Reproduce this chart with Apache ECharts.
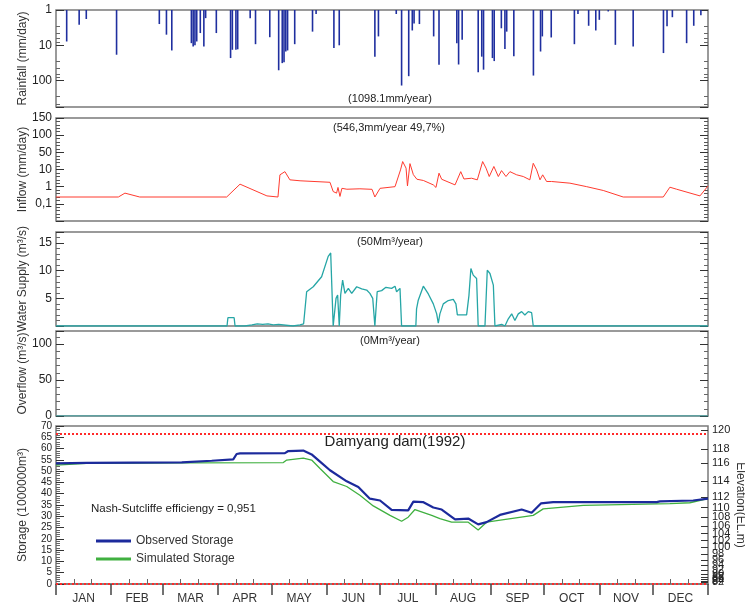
<!DOCTYPE html>
<html><head><meta charset="utf-8">
<script src="https://cdn.jsdelivr.net/npm/echarts@6.0.0/dist/echarts.min.js"></script>
<style>html,body{margin:0;padding:0;background:#fff}#c{width:745px;height:610px}</style>
</head><body><div id="c"></div><script>
// ---------- data ----------
const monthNames = ['JAN','FEB','MAR','APR','MAY','JUN','JUL','AUG','SEP','OCT','NOV','DEC'];
const monthStarts = [1,32,61,92,122,153,183,214,245,275,306,336,367];

const rainDay = [7,14,18,35,59,63,66,77,78,79,80,82,84,85,91,99,100,102,103,110,113,121,126,128,129,130,131,135,145,147,157,160,180,182,192,195,199,201,202,205,213,216,226,227,229,238,240,241,246,247,251,253,254,258,269,273,274,279,292,294,300,304,306,311,315,325,342,344,347,355,359,363];
const rainMm = [7.8,2.6,1.8,18.5,2.5,5,14,8.7,10.8,10,7.8,4.5,10.8,1.7,4.5,23,13.4,13.4,13,1.7,9.3,5.9,51,32,30,15,14,9.3,4.1,1.3,12,10,21,5.6,1.3,138,75,3.8,2.4,2.5,5.6,35.5,8.7,35,7,58,21,49,23,28,3.3,12.8,4.1,20.6,72,15,5.6,6,9.3,1.3,2.8,3.8,1.9,1.1,9.7,10.8,16.6,2.9,1.6,8.7,2.8,1.4];

const inflowDay = [1,36,39.7,48,96.8,104.3,119.4,125.6,126.7,129.5,132.3,138,154.8,156.6,158.5,159.3,160.4,161.5,164.3,171.6,178.4,180,182.9,191.3,194.4,195.6,197.5,198.3,199.7,201.6,203.6,207.2,212.8,214.3,216,217.5,225,228.2,230,234.3,237.5,240.5,242.4,244.2,246.8,249.3,251.1,253.6,255.8,259.6,263.3,267,268.9,270.8,272.7,274.2,276.4,279.2,289.5,298.9,308.2,319.4,341.9,345.6,349.4,362.5,367];
const inflowVal = [0.25,0.25,0.42,0.25,0.25,1.4,0.29,0.25,4.9,7.5,2.5,2.2,1.8,0.52,0.42,0.9,0.27,0.8,0.71,0.75,0.7,0.25,0.8,1.0,9.5,29,12,1.1,22,5,2.7,2.3,1.27,0.9,6.1,2.7,1.27,7.5,2.8,3.1,2.5,29,12,3.9,15,3.9,8.6,3.9,7.5,4.9,3.9,2.5,23,9.5,2.5,4.9,2.0,2.0,1.6,1.0,0.6,0.25,0.25,0.93,0.71,0.29,1.1];
const inflowTickLabels = ['', '0,1', '1', '10', '50', '100', '150'];

const supplyDay = [1,97,97.5,101,101.5,107,108,111,114,117,120,123,126,127,134,135,138,140,141,141.7,145.4,150.1,153.8,155.2,156.1,156.6,158.2,159.1,160,160.8,161.9,163.2,165.1,167,169.8,172.6,175.4,177.2,178.8,180,181.3,183.8,186.2,189.4,191.3,192.2,194.1,195,203,203.4,204.3,207.2,210,212.8,214.7,215.6,216.5,218.4,221.2,224,225.5,226.3,231.5,232.8,233.9,235.2,237.1,238,241.8,243.1,244.6,246.5,247.4,251.2,253,254.9,256.8,258.6,260.5,262.4,264.2,266.1,268,268.9,367];
const supplyVal = [0,0,1.5,1.5,0,0,0.3,0.2,0.4,0.3,0.4,0.2,0.3,0,0,0.3,0.2,0.4,0.3,6.2,7.1,8.9,12.6,13.2,13,0,5,5.6,0,5.6,8.3,5.9,6.8,5.9,7.1,6.7,6.5,5.9,5,0,6.2,6.4,7,6.8,7.2,6.2,6.8,0,0,3.1,4.6,7.2,5.8,4,2.2,0.5,2.2,4,4.6,4.8,4,2,2,5.5,10.4,9.2,8.6,0,0,10.1,9.5,7.4,0,0.3,0,1.3,2.2,1,2.2,2.6,2,2.6,2.4,0,0];

const overflowDay = [1,367];
const overflowVal = [0,0];

const obsDay = [1,18.2,71.6,88.4,100.5,102.4,104.3,129.5,131.4,139.8,144.5,149.2,154.8,164.2,170.7,177.2,182.9,189.4,198.7,201.6,207,212.8,217.5,225,232.4,238,242.7,250.2,262.4,268,273.2,280.1,338.2,340,358.7,367];
const obsVal = [53.4,53.7,53.9,54.6,55.2,57.6,57.9,58,58.9,59.1,57.4,54.2,50.4,45.5,43,37.8,37,32.8,32.6,36.5,36.3,33.9,33,28.6,29,26.4,27.4,30.6,33,31.6,35.7,36.3,36.3,36.6,37,37.8];
const simDay = [1,18.2,71.6,128.6,130.5,139.8,144.5,149.2,156.6,164.2,171.6,179.1,188.5,195,198.7,202.5,211.9,216.5,223.1,232.4,238,242.7,268.9,274.5,297,345.6,356.8,367];
const simVal = [52.7,53.4,53.7,53.8,54.9,55.8,54.9,51.2,45.4,43.2,39.3,34.6,30.4,27.8,29.6,33,30.4,29,27.4,27.4,23.9,27.4,30.4,33.3,34.8,35.6,36,37.8];
const storageLimits = [66.5, 0.3];

const elevLabels = [120,118,116,114,112,110,108,106,104,102,100,98,96,94,92,90,88,86,84,82,80];
const elevStorage = [68.3,59.8,53.6,45.5,38.4,33.9,29.5,25.5,22.3,19.2,16.5,13.4,10.7,8.5,6.2,4.5,3.1,2.2,1.3,0.7,0.3];

// ---------- chart ----------
const FONT = "'Liberation Sans Narrow','Liberation Sans',Arial,sans-serif";
const zip = (a, b) => a.map((v, i) => [v, b[i]]);
const monthMids = monthNames.map((m, i) => (monthStarts[i] + monthStarts[i + 1]) / 2);
const dekadTicks = [];
monthStarts.slice(0, 12).forEach(s => { dekadTicks.push(s + 10, s + 20); });

const gridBox = [[10, 97], [118, 103], [232, 94], [331, 85], [426, 158]];
const grids = gridBox.map(g => ({left: 56, right: 37, top: g[0], height: g[1], show: true,
  outerBoundsMode: 'none', containLabel: false,
  borderColor: '#7a7a7a', borderWidth: 1.5, backgroundColor: '#fff'}));

const xHidden = i => ({gridIndex: i, type: 'value', min: 1, max: 367, show: false});
const xAxes = [xHidden(0), xHidden(1), xHidden(2), xHidden(3),
  {gridIndex: 4, type: 'value', min: 1, max: 367, splitLine: {show: false},
   axisLine: {show: true, lineStyle: {color: '#7a7a7a', width: 1.5}},
   axisTick: {show: true, customValues: monthStarts, length: 11, lineStyle: {color: '#444', width: 1.5}},
   axisLabel: {customValues: monthMids, margin: 9, fontSize: 12, color: '#333', fontFamily: FONT,
     formatter: v => monthNames[monthMids.indexOf(v)] || ''}},
  {gridIndex: 4, type: 'value', min: 1, max: 367, splitLine: {show: false},
   axisLine: {show: false}, axisLabel: {show: false},
   axisTick: {show: true, customValues: dekadTicks, length: 5, lineStyle: {color: '#666'}}}
];

const nameStyle = {fontSize: 12, color: '#333', fontFamily: FONT};
function yax(o) {
  return Object.assign({
    position: 'left',
    splitLine: {show: false}, axisLine: {show: false},
    axisTick: {show: true, inside: true, length: 8, lineStyle: {color: '#333'}},
    minorTick: {show: true, length: 4, lineStyle: {color: '#666'}},
    axisLabel: {fontSize: 12, color: '#222', fontFamily: FONT, margin: 4},
    nameLocation: 'middle', nameRotate: 90, nameGap: 27, nameMoveOverlap: false, nameTextStyle: nameStyle
  }, o);
}
function mirror(base) {
  return Object.assign({}, base, {position: 'right', name: '', axisLabel: {show: false}});
}

const yRain = yax({gridIndex: 0, type: 'log', logBase: 10, inverse: true, min: 1, max: 560,
  name: 'Rainfall (mm/day)', axisLabel: {fontSize: 12, color: '#222', fontFamily: FONT, margin: 4, showMaxLabel: false}});
const yInflowData = {gridIndex: 1, type: 'log', logBase: 10, min: 0.01, max: 10000, show: false, position: 'left'};
const yInflowLab = yax({gridIndex: 1, type: 'value', min: -1, max: 5, interval: 1, name: 'Inflow (mm/day)',
  minorTick: {show: true, splitNumber: 5, length: 4, lineStyle: {color: '#555'}},
  axisLabel: {fontSize: 12, color: '#222', fontFamily: FONT, margin: 4, formatter: v => inflowTickLabels[v + 1]}});
const ySupply = yax({gridIndex: 2, type: 'value', min: 0, max: 17, interval: 5, name: 'Water Supply (m³/s)',
  axisLabel: {fontSize: 12, color: '#222', fontFamily: FONT, margin: 4, showMaxLabel: false,
    formatter: v => v === 0 ? '' : v}});
const yOver = yax({gridIndex: 3, type: 'value', min: 0, max: 118, interval: 50, name: 'Overflow (m³/s)',
  axisLabel: {fontSize: 12, color: '#222', fontFamily: FONT, margin: 4, showMaxLabel: false}});
const yStore = yax({gridIndex: 4, type: 'value', min: 0, max: 70, interval: 5, name: 'Storage (1000000m³)',
  axisLabel: {fontSize: 10, color: '#222', fontFamily: FONT, margin: 4}});
const yElev = {gridIndex: 4, type: 'value', position: 'right', min: 0, max: 70,
  splitLine: {show: false}, axisLine: {show: false},
  axisTick: {show: true, inside: true, customValues: elevStorage, length: 7, lineStyle: {color: '#333'}},
  axisLabel: {customValues: elevStorage, fontSize: 11, color: '#222', fontFamily: FONT, margin: 4,
    formatter: v => { const i = elevStorage.indexOf(v); return i >= 0 ? String(elevLabels[i]) : ''; }},
  name: 'Elevation(EL.m)', nameLocation: 'middle', nameRotate: -90, nameGap: 26, nameMoveOverlap: false,
  nameTextStyle: nameStyle};

const yAxes = [yRain, mirror(yRain), yInflowData, yInflowLab, mirror(yInflowLab),
  ySupply, mirror(ySupply), yOver, mirror(yOver), yStore, yElev];

const txt = (x, y, s, size) => ({type: 'text', x: x, y: y, z: 100,
  style: {text: s, align: 'center', verticalAlign: 'middle',
    fontSize: size, fontFamily: FONT, fill: '#222'}});

const option = {
  animation: false,
  backgroundColor: '#fff',
  textStyle: {fontFamily: FONT},
  grid: grids,
  xAxis: xAxes,
  yAxis: yAxes,
  legend: {data: ['Observed Storage', 'Simulated Storage'], orient: 'vertical', left: 91, top: 530,
    itemWidth: 35, itemHeight: 3, itemGap: 6, icon: 'rect',
    textStyle: {fontSize: 12, color: '#333', fontFamily: "'Liberation Sans',Arial,sans-serif"}},
  graphic: [
    txt(390, 99, '(1098.1mm/year)', 11),
    txt(389, 128, '(546,3mm/year 49,7%)', 11),
    txt(390, 242, '(50Mm³/year)', 11),
    txt(390, 341, '(0Mm³/year)', 11),
    txt(395, 442, 'Damyang dam(1992)', 15),
    {type: 'text', x: 91, y: 509, z: 100, style: {text: 'Nash-Sutcliffe efficiengy = 0,951', align: 'left', verticalAlign: 'middle',
      fontSize: 11.5, fontFamily: "'Liberation Sans',Arial,sans-serif", fill: '#222'}}
  ],
  series: [
    {type: 'bar', xAxisIndex: 0, yAxisIndex: 0, data: zip(rainDay, rainMm), barWidth: 1.6,
     itemStyle: {color: '#1f2f9f'}},
    {type: 'line', xAxisIndex: 1, yAxisIndex: 2, data: zip(inflowDay, inflowVal), showSymbol: false,
     lineStyle: {color: '#ff3b2f', width: 1}, itemStyle: {color: '#ff3b2f'}},
    {type: 'line', xAxisIndex: 2, yAxisIndex: 5, data: zip(supplyDay, supplyVal), showSymbol: false,
     lineStyle: {color: '#26a6a6', width: 1.3}, itemStyle: {color: '#26a6a6'}},
    {type: 'line', xAxisIndex: 3, yAxisIndex: 7, data: zip(overflowDay, overflowVal), showSymbol: false,
     lineStyle: {color: '#26a6a6', width: 1}},
    {type: 'line', name: 'Simulated Storage', xAxisIndex: 4, yAxisIndex: 9, data: zip(simDay, simVal), showSymbol: false,
     lineStyle: {color: '#40b040', width: 1.3}, itemStyle: {color: '#40b040'},
     markLine: {silent: true, symbol: 'none', label: {show: false},
       lineStyle: {color: '#ff2a2a', type: 'dotted', width: 2},
       data: storageLimits.map(v => ({yAxis: v}))}},
    {type: 'line', name: 'Observed Storage', xAxisIndex: 4, yAxisIndex: 9, data: zip(obsDay, obsVal), showSymbol: false,
     lineStyle: {color: '#1c2a9c', width: 2.2}, itemStyle: {color: '#1c2a9c'}}
  ]
};
const chart = echarts.init(document.getElementById('c'), null, {renderer: 'canvas'});
chart.setOption(option);
</script></body></html>
